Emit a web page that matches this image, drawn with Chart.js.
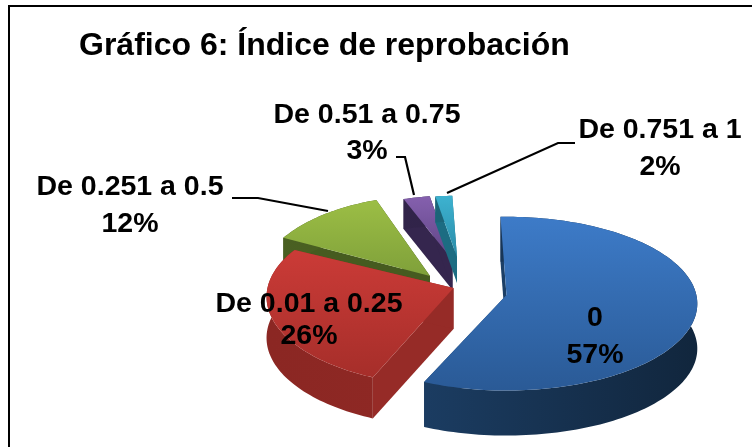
<!DOCTYPE html>
<html><head><meta charset="utf-8">
<style>html,body{margin:0;padding:0;background:#fff}#w{width:752px;height:447px;position:relative}</style>
<script src="https://cdn.jsdelivr.net/npm/chart.js@4"></script>
</head><body><div id="w"><canvas id="c" width="752" height="447"></canvas></div>
<script>
const chartTitle = 'Gráfico 6: Índice de reprobación';
const categories = ['0', 'De 0.01 a 0.25', 'De 0.251 a 0.5', 'De 0.51 a 0.75', 'De 0.751 a 1'];
const values = [57, 26, 12, 3, 2];

// Styling of the exploded 3D look
const sliceColors = ['#3B78C4', '#C63A36', '#9BBB44', '#7D5BA6', '#38ACCB'];
const topShade = [['#3D7BC8','#2A5A96'],['#CB3B37','#A62E2A'],['#9CBE45','#7FA03A'],['#8560AE','#5E4484'],['#3DB2D0','#2A8CA8']];
const wallShade = [['#1F4570','#11263D'],['#8B2723','#952A26'],['#4A6022','#435A1E'],['#33254C','#2E2145'],['#1B6478','#1B6478']];
const faceShade = ['#1C3F66','#962B27','#465B20','#35264E','#1C6C82'];
const explodeX = [91, 38, 14.5, 37, 41.5];
const explodeY = [38.8, 31.8, 19.8, 3.8, 0.8];
const sizeScale = [0.995, 0.975, 0.9, 0.82, 0.78];
const squashBy = [0.453, 0.475, 0.515, 0.453, 0.453];
const depth = [45, 41, 32, 30, 26];
const paintOrder = [2, 3, 4, 1, 0];
const perspective = 0.1;

const labelX = [595, 309, 130, 367, 660];
const labelY = [318, 304, 187, 115, 130];
const labelGap = [37, 32, 37, 36, 37];
const leaders = [
  null, null,
  [[232,198],[258,198],[328,211]],
  [[396,157],[405,157],[414,195]],
  [[575,143],[558,143],[447,193]]
];

const pie3d = {
  id: 'pie3d',
  beforeDatasetsDraw(chart) {
    const ctx = chart.ctx, arcs = chart.getDatasetMeta(0).data;
    ctx.save();
    ctx.filter = 'blur(0.5px)';
    paintOrder.forEach(i => {
      const p = arcs[i].getProps(['x','y','startAngle','endAngle','outerRadius']);
      const R = p.outerRadius * sizeScale[i], cx = p.x + explodeX[i], cy = p.y + explodeY[i], D = depth[i];
      const pt = a => {
        const th = a + Math.PI/2, u = Math.sin(th), v = -Math.cos(th), w = 1/(1 - perspective*v);
        return [cx + R*u*w, cy + R*squashBy[i]*v*w];
      };
      const n = Math.max(4, Math.ceil((p.endAngle - p.startAngle)/0.025));
      const rim = [];
      for (let k = 0; k <= n; k++) rim.push(pt(p.startAngle + (p.endAngle - p.startAngle)*k/n));
      const poly = (pts, col) => {
        ctx.beginPath();
        pts.forEach((q,j) => j ? ctx.lineTo(q[0],q[1]) : ctx.moveTo(q[0],q[1]));
        ctx.closePath(); ctx.fillStyle = col; ctx.fill();
      };
      const down = q => [q[0], q[1]+D];
      const apex = [cx, cy];
      // radial cut faces
      poly([apex, rim[0], down(rim[0]), down(apex)], faceShade[i]);
      poly([apex, rim[n], down(rim[n]), down(apex)], faceShade[i]);
      // outer wall
      const wg = ctx.createLinearGradient(cx - R, 0, cx + R, 0);
      wg.addColorStop(0, wallShade[i][0]); wg.addColorStop(1, wallShade[i][1]);
      poly(rim.concat(rim.slice().reverse().map(down)), wg);
      // top surface
      let minY = cy, maxY = cy;
      rim.forEach(q => { minY = Math.min(minY,q[1]); maxY = Math.max(maxY,q[1]); });
      const g = ctx.createLinearGradient(0, minY, 0, maxY);
      g.addColorStop(0, topShade[i][0]); g.addColorStop(1, topShade[i][1]);
      poly([apex].concat(rim), g);
    });
    ctx.restore();
    return false;
  },
  afterDraw(chart) {
    const ctx = chart.ctx;
    ctx.save();
    // frame
    ctx.fillStyle = '#000';
    ctx.fillRect(8, 5, 744, 2);
    ctx.fillRect(8, 5, 2, 442);
    // leader lines
    ctx.strokeStyle = '#000'; ctx.lineWidth = 2.2;
    leaders.forEach(l => {
      if (!l) return;
      ctx.beginPath();
      l.forEach((q,j) => j ? ctx.lineTo(q[0],q[1]) : ctx.moveTo(q[0],q[1]));
      ctx.stroke();
    });
    // labels
    ctx.fillStyle = '#000';
    ctx.font = 'bold 28.5px "Liberation Sans", Arial, sans-serif';
    ctx.textAlign = 'center'; ctx.textBaseline = 'middle';
    categories.forEach((c,i) => {
      ctx.fillText(c, labelX[i], labelY[i]);
      ctx.fillText(values[i] + '%', labelX[i], labelY[i] + labelGap[i]);
    });
    ctx.restore();
  }
};

new Chart(document.getElementById('c'), {
  type: 'pie',
  data: { labels: categories, datasets: [{ data: values, backgroundColor: sliceColors, borderWidth: 0 }] },
  options: {
    responsive: false, animation: false, rotation: -2,
    layout: { padding: { left: 79, top: 13, right: 0, bottom: 0 } },
    plugins: {
      legend: { display: false }, tooltip: { enabled: false },
      title: { display: true, text: chartTitle, align: 'start', color: '#000',
        font: { family: '"Liberation Sans", Arial, sans-serif', size: 32, weight: 'bold' },
        padding: { top: 14, bottom: 0 } }
    }
  },
  plugins: [pie3d]
});
</script></body></html>
